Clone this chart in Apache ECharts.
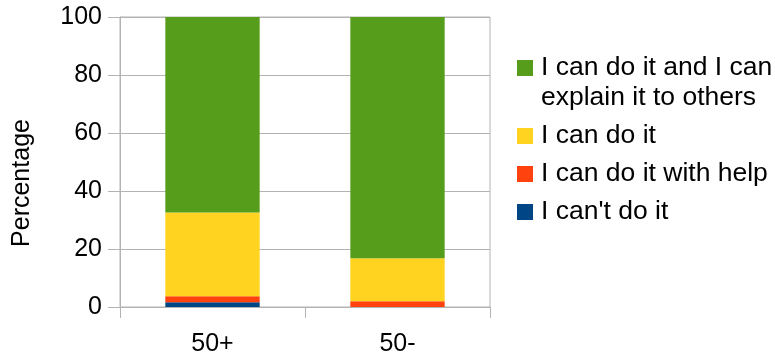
<!DOCTYPE html>
<html>
<head>
<meta charset="utf-8">
<script src="https://cdn.jsdelivr.net/npm/echarts@6/dist/echarts.min.js"></script>
<style>
  html, body { margin: 0; padding: 0; background: #fff; }
  #chart { width: 775px; height: 357px; }
</style>
</head>
<body>
<div id="chart"></div>
<script>
// Age groups along the x axis
const categories = ['50+', '50-'];

// Share of respondents (%) per answer, stacked bottom to top
const cantDo = [1.6, 0];
const withHelp = [2.1, 2.0];
const canDo = [28.9, 14.8];
const canExplain = [67.4, 83.2];

const yTicks = [0, 20, 40, 60, 80, 100];

const seriesNames = [
  "I can't do it",
  'I can do it with help',
  'I can do it',
  'I can do it and I can explain it to others'
];
const seriesValues = [cantDo, withHelp, canDo, canExplain];
const seriesColors = ['#004586', '#ff420e', '#ffd320', '#579d1c'];

const FONT = '"Liberation Sans", Arial, sans-serif';
const FS = 25;

const chart = echarts.init(document.getElementById('chart'), null, { renderer: 'canvas' });

chart.setOption({
  animation: false,
  backgroundColor: '#ffffff',
  textStyle: { fontFamily: FONT },
  grid: {
    left: 120, right: 285, top: 17, bottom: 49,
    show: true, borderColor: '#b3b3b3', borderWidth: 1, backgroundColor: 'transparent'
  },
  legend: {
    orient: 'vertical',
    left: 517,
    top: 23,
    padding: 0,
    itemWidth: 16,
    itemHeight: 16,
    itemGap: 8,
    icon: 'rect',
    textStyle: { fontFamily: FONT, fontSize: 26.5, color: '#000', lineHeight: 30, padding: [0, 0, 0, 3] },
    data: [seriesNames[3], seriesNames[2], seriesNames[1], seriesNames[0]],
    // the long label wraps; a leading empty line keeps its first line level with the swatch
    formatter: function (name) {
      return name === seriesNames[3] ? '\nI can do it and I can\nexplain it to others' : name;
    }
  },
  xAxis: {
    type: 'category',
    data: categories,
    boundaryGap: true,
    axisLine: { lineStyle: { color: '#b3b3b3' } },
    axisTick: { show: true, length: 11, lineStyle: { color: '#b3b3b3' } },
    axisLabel: { fontFamily: FONT, fontSize: FS, color: '#000', margin: 25 }
  },
  yAxis: {
    type: 'value',
    min: yTicks[0],
    max: yTicks[yTicks.length - 1],
    interval: yTicks[1] - yTicks[0],
    axisLine: { show: true, lineStyle: { color: '#b3b3b3' } },
    axisTick: { show: true, length: 12, lineStyle: { color: '#b3b3b3' } },
    axisLabel: { fontFamily: FONT, fontSize: FS, color: '#000', margin: 18 },
    splitLine: { show: true, lineStyle: { color: '#b3b3b3' } }
  },
  graphic: [{
    type: 'text',
    x: 22,
    y: 183,
    rotation: Math.PI / 2,
    style: {
      text: 'Percentage',
      fontFamily: FONT,
      fontSize: FS,
      fill: '#000',
      textAlign: 'center',
      textVerticalAlign: 'middle'
    }
  }],
  series: seriesNames.map(function (name, i) {
    return {
      name: name,
      type: 'bar',
      stack: 'total',
      barWidth: '51%',
      data: seriesValues[i],
      itemStyle: { color: seriesColors[i] }
    };
  })
});
</script>
</body>
</html>
